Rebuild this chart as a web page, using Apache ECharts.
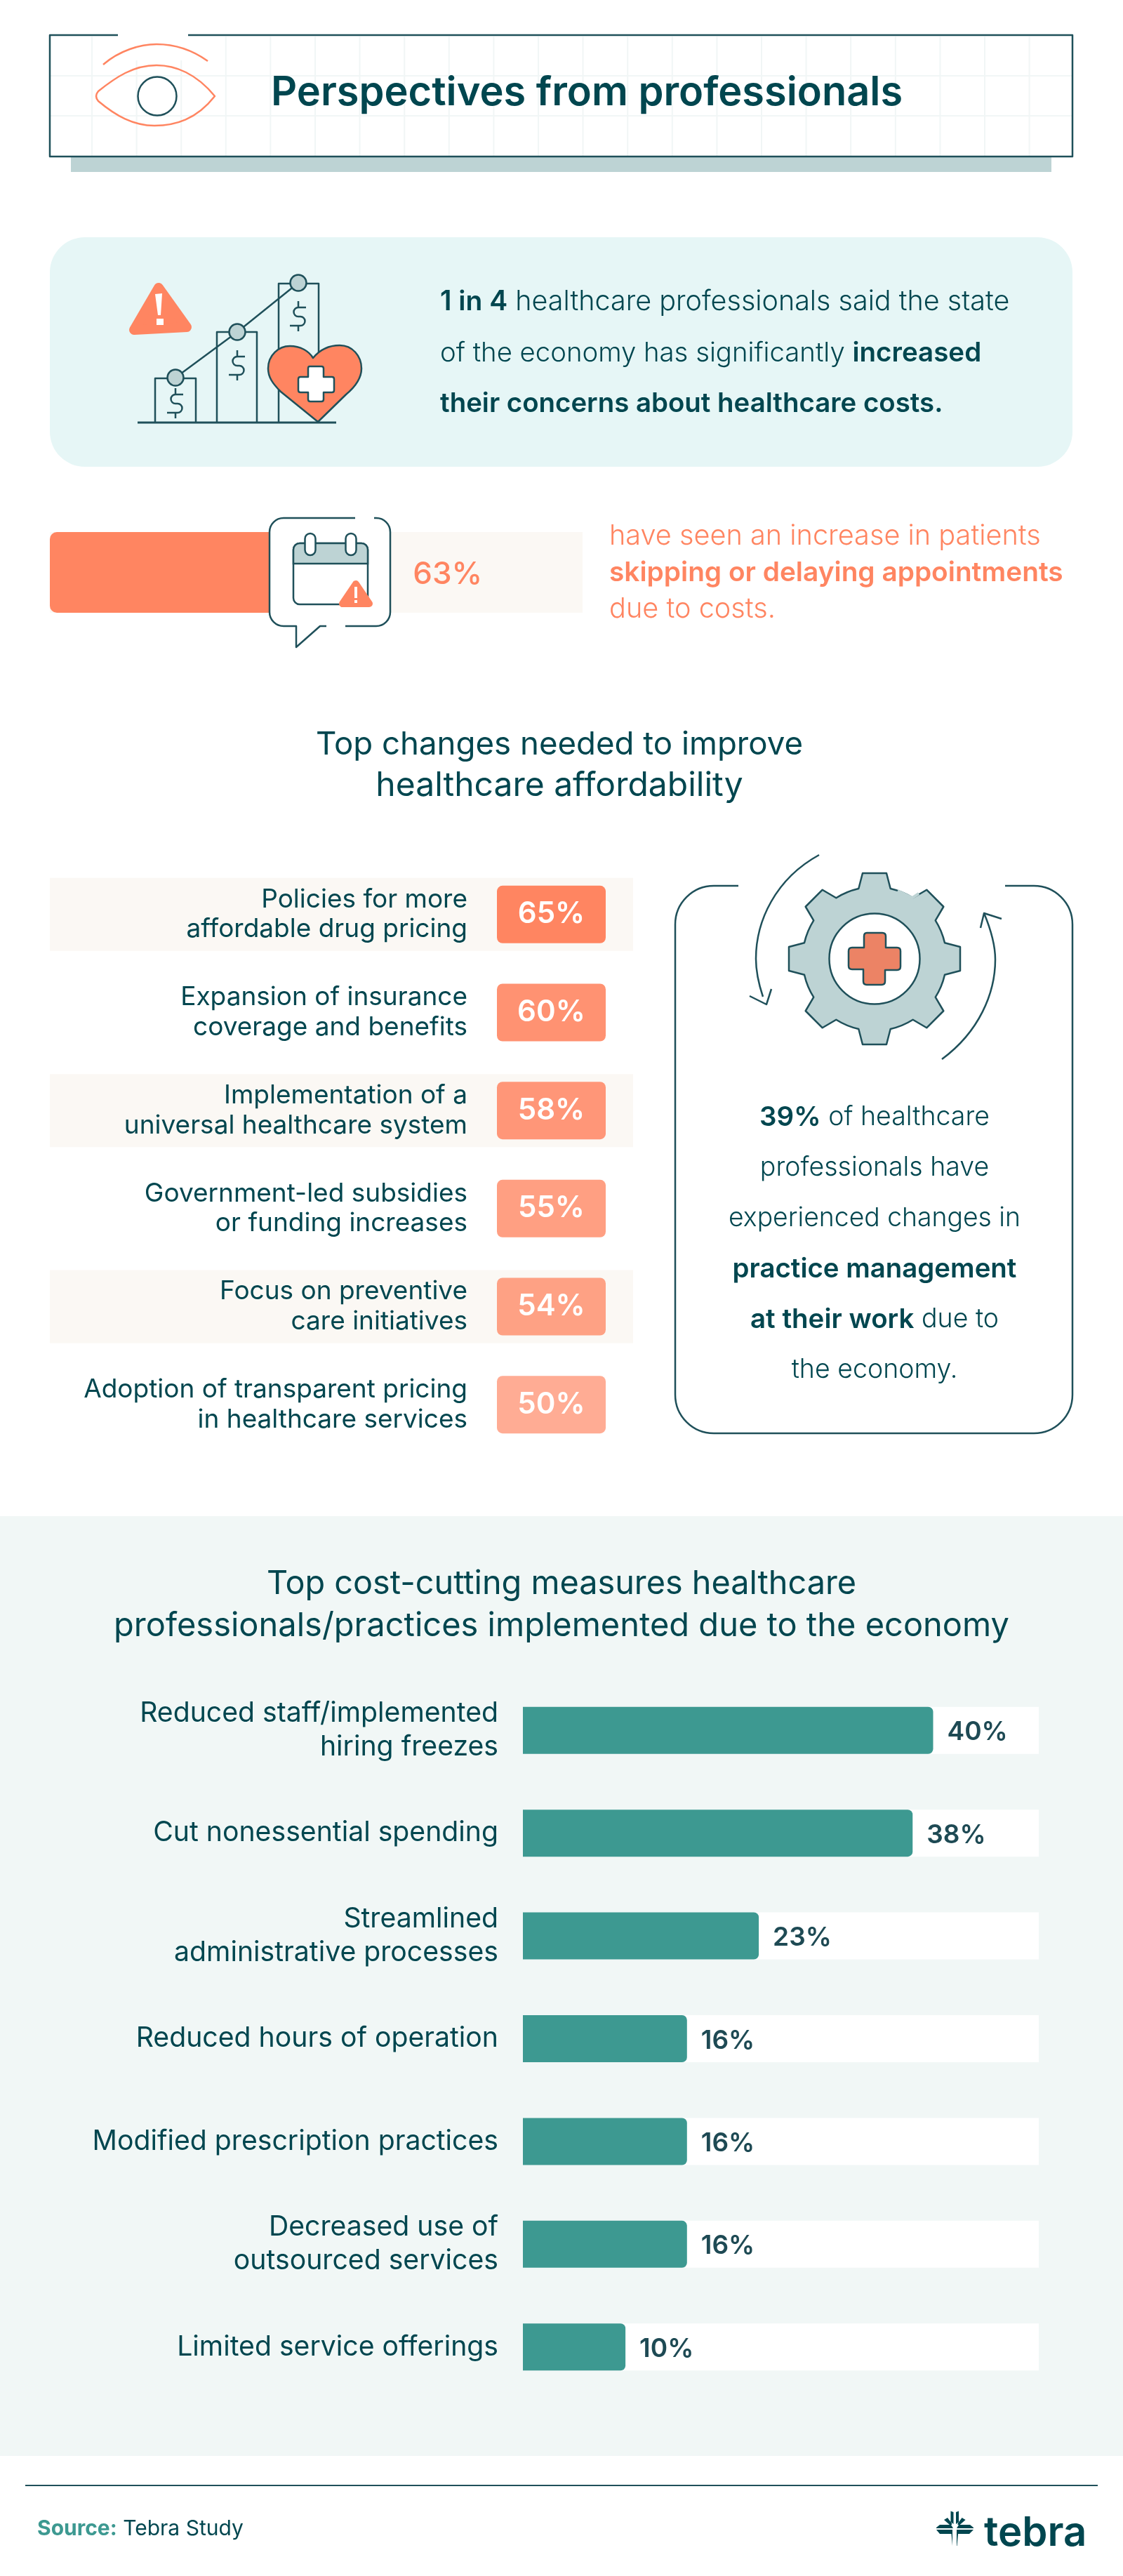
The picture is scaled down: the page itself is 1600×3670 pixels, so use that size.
<!DOCTYPE html>
<html>
<head>
<meta charset="utf-8">
<title>Perspectives from professionals</title>
<script src="https://cdn.jsdelivr.net/npm/echarts@6/dist/echarts.min.js"></script>
<style>
  html, body { margin: 0; padding: 0; background: #fff; }
  #chart { width: 1600px; height: 3670px; }
</style>
</head>
<body>
<div id="chart"></div>
<script>
// data
const skipLabels = ['Skipping or delaying appointments'];
const skipValues = [63];

const changeLabels = [
  'Policies for more\naffordable drug pricing',
  'Expansion of insurance\ncoverage and benefits',
  'Implementation of a\nuniversal healthcare system',
  'Government-led subsidies\nor funding increases',
  'Focus on preventive\ncare initiatives',
  'Adoption of transparent pricing\nin healthcare services'
];
const changeValues = [65, 60, 58, 55, 54, 50];

const measureLabels = [
  'Reduced staff/implemented\nhiring freezes',
  'Cut nonessential spending',
  'Streamlined\nadministrative processes',
  'Reduced hours of operation',
  'Modified prescription practices',
  'Decreased use of\noutsourced services',
  'Limited service offerings'
];
const measureValues = [40, 38, 23, 16, 16, 16, 10];

const FONT = 'Inter';
const DARK = '#00464f';
const LINE = '#1f505a';
const CORAL = '#ff8561';
const TEAL = '#3d9991';
const MIST = '#bdd3d4';

const path = (d, style) => ({ type: 'path', shape: { pathData: d }, style: Object.assign({ fill: 'none', stroke: LINE, lineWidth: 2.5, lineJoin: 'round', lineCap: 'butt' }, style) });
const text = (x, y, str, size, weight, fill, align) => ({
  type: 'text',
  style: { x: x, y: y, text: str, fontFamily: FONT, fontSize: size, fontWeight: weight, fill: fill || DARK, align: align || 'left', verticalAlign: 'middle' }
});
// mixed light / bold line
const mixed = (x, y, str, size, boldSize, fill, align) => {
  const t = text(x, y, str, size, 300, fill, align);
  t.style.rich = {
    n: { fontFamily: FONT, fontSize: size, fontWeight: 300, fill: fill || DARK },
    b: { fontFamily: FONT, fontSize: boldSize, fontWeight: 600, fill: fill || DARK }
  };
  return t;
};
const dollar = (cx, cy) => path(
  `M${cx + 11} ${cy - 13} H${cx} A6.5 6.5 0 0 0 ${cx} ${cy} H${cx + 3} A6.5 6.5 0 0 1 ${cx + 3} ${cy + 13} H${cx - 12} M${cx} ${cy - 22} V${cy - 13} M${cx} ${cy + 13} V${cy + 21}`
);
const warning = (points, stroke) => ({ type: 'polygon', shape: { points }, style: { fill: CORAL, stroke: CORAL, lineWidth: stroke, lineJoin: 'round' } });
const gearPath = (cx, cy) => {
  let d = '';
  for (let k = 0; k < 8; k++) {
    const a = k * Math.PI / 4;
    const rot = (dx, dy) => [cx + dx * Math.cos(a) - dy * Math.sin(a), cy + dx * Math.sin(a) + dy * Math.cos(a)];
    const pts = [rot(-22.7, -100), rot(-17, -122), rot(17, -122), rot(22.7, -100)];
    d += (k === 0 ? 'M' : 'A102.5 102.5 0 0 1 ') + pts[0].join(' ') + ' L' + pts[1].join(' ') + ' L' + pts[2].join(' ') + ' L' + pts[3].join(' ') + ' ';
  }
  return d + 'A102.5 102.5 0 0 1 ' + [cx - 22.7, cy - 100].join(' ') + ' Z';
};

function backdrop() {
  const out = [];
  // header card
  out.push({ type: 'rect', shape: { x: 101, y: 223, width: 1397, height: 22 }, style: { fill: MIST } });
  for (let i = 0; i < 22; i++) {
    const x = 131 + i * 63.6;
    out.push({ type: 'line', shape: { x1: x, y1: 52, x2: x, y2: 222 }, style: { stroke: '#f1f6f6', lineWidth: 2 } });
  }
  [108, 165].forEach(y => out.push({ type: 'line', shape: { x1: 72, y1: y, x2: 1527, y2: y }, style: { stroke: '#f1f6f6', lineWidth: 2 } }));
  out.push({ type: 'rect', shape: { x: 160, y: 46, width: 116, height: 40 }, style: { fill: '#fff' } });
  out.push(path('M168 50 H71 V223 H1528 V50 H268'));
  out.push(text(386, 133, 'Perspectives from professionals', 57.7, 600));
  // info panel
  out.push({ type: 'rect', shape: { x: 71, y: 338, width: 1457, height: 327, r: 50 }, style: { fill: '#e6f6f6' } });
  out.push(mixed(627, 430, '{b|1 in 4} {n|healthcare professionals said the state}', 39.5, 39));
  out.push(mixed(627, 503, '{n|of the economy has significantly} {b|increased}', 38.3, 38.5));
  out.push(text(627, 575, 'their concerns about healthcare costs.', 38.4, 600));
  // 63% side text
  out.push(text(868, 764, 'have seen an increase in patients', 39.7, 300, CORAL));
  out.push(text(868, 816, 'skipping or delaying appointments', 38.8, 600, CORAL));
  out.push(text(868, 868, 'due to costs.', 39.7, 300, CORAL));
  // section titles
  out.push(text(797, 1061, 'Top changes needed to improve', 45.6, 400, DARK, 'center'));
  out.push(text(797, 1120, 'healthcare affordability', 48, 400, DARK, 'center'));
  // right callout
  out.push(path('M1052 1262 H1017 A55 55 0 0 0 962 1317 V1987 A55 55 0 0 0 1017 2042 H1473 A55 55 0 0 0 1528 1987 V1317 A55 55 0 0 0 1473 1262 H1432'));
  out.push(mixed(1246, 1592, '{b|39%} {n|of healthcare}', 37.5, 38.5, DARK, 'center'));
  out.push(text(1246, 1664, 'professionals have', 37.5, 300, DARK, 'center'));
  out.push(text(1246, 1736, 'experienced changes in', 37.3, 300, DARK, 'center'));
  out.push(text(1246, 1808, 'practice management', 38.4, 600, DARK, 'center'));
  out.push(mixed(1246, 1880, '{b|at their work} {n|due to}', 37.5, 38.5, DARK, 'center'));
  out.push(text(1246, 1952, 'the economy.', 37.5, 300, DARK, 'center'));
  // bottom section
  out.push({ type: 'rect', shape: { x: 0, y: 2160, width: 1600, height: 1339 }, style: { fill: '#f1f7f6' } });
  out.push(text(800, 2257, 'Top cost-cutting measures healthcare', 46.8, 400, DARK, 'center'));
  out.push(text(800, 2317, 'professionals/practices implemented due to the economy', 47, 400, DARK, 'center'));
  // footer
  out.push({ type: 'line', shape: { x1: 36, y1: 3541, x2: 1564, y2: 3541 }, style: { stroke: LINE, lineWidth: 2 } });
  const src = text(53, 3603, '{s|Source:} {t|Tebra Study}', 30, 400);
  src.style.rich = {
    s: { fontFamily: FONT, fontSize: 30, fontWeight: 700, fill: TEAL },
    t: { fontFamily: FONT, fontSize: 30, fontWeight: 400, fill: DARK }
  };
  out.push(src);
  return out;
}

function icons() {
  const out = [];
  // eye
  out.push(path('M306 137 C280 105 250 93 223 93 C190 93 165 110 140 130 Q134 137 140 144 C165 165 190 179 220 179 C250 179 280 170 306 137 Z', { stroke: CORAL }));
  out.push(path('M147 92 C170 72 200 63 223 63 C250 63 275 72 296 87', { stroke: CORAL }));
  out.push({ type: 'circle', shape: { cx: 224, cy: 137, r: 27.5 }, style: { fill: 'none', stroke: LINE, lineWidth: 2.5 } });
  // rising bars icon
  out.push(path('M221 602 V539 H279 V602 M309 602 V473 H366 V602 M397 602 V404 H454 V602'));
  out.push(path('M250 538 L338 473 L425 403'));
  [[250, 538], [338, 473], [425, 403]].forEach(p => out.push({ type: 'circle', shape: { cx: p[0], cy: p[1], r: 11.5 }, style: { fill: MIST, stroke: LINE, lineWidth: 2.5 } }));
  out.push(dollar(250, 575), dollar(338, 521), dollar(425, 451));
  out.push(warning([[226, 410], [191, 470], [266, 466]], 14));
  out.push(path('M221 419 L231 418 L229 449 L225 449 Z M223 454 L233 454 L233 463 L223 463 Z', { fill: '#fff', stroke: 'none' }));
  out.push(path('M453 601 L400 558 C388 546 382 537 382 525 C382 506 397 493 413 493 C428 493 440 500 446 510 C455 499 468 492 484 492 C502 492 515 507 515 525 C515 539 505 552 493 562 Z', { fill: CORAL }));
  out.push(path('M441 522 H458 Q461 522 461 525 V537 H473 Q476 537 476 540 V556 Q476 559 473 559 H461 V569 Q461 572 458 572 H442 Q439 572 439 569 V559 H428 Q425 559 425 556 V540 Q425 537 428 537 H439 V525 Q439 522 441 522 Z', { fill: '#fff' }));
  out.push({ type: 'line', shape: { x1: 196, y1: 602, x2: 479, y2: 602 }, style: { stroke: LINE, lineWidth: 3 } });
  // calendar speech bubble: white card first, then the broken outline on top
  out.push({ type: 'rect', shape: { x: 384, y: 738, width: 172, height: 154, r: 20 }, style: { fill: '#fff' } });
  out.push(path('M506 738 H404 A20 20 0 0 0 384 758 V872 A20 20 0 0 0 404 892 H422 V922 L456 892 H465 M492 892 H536 A20 20 0 0 0 556 872 V758 A20 20 0 0 0 536 738 H533'));
  out.push({ type: 'rect', shape: { x: 418, y: 774, width: 106, height: 87, r: 9 }, style: { fill: '#fff', stroke: LINE, lineWidth: 2.5 } });
  out.push({ type: 'rect', shape: { x: 418, y: 774, width: 106, height: 29, r: [9, 9, 0, 0] }, style: { fill: MIST, stroke: LINE, lineWidth: 2.5 } });
  [442, 500].forEach(x => out.push({ type: 'rect', shape: { x: x - 7.5, y: 760, width: 15, height: 31, r: 7.5 }, style: { fill: '#fff', stroke: LINE, lineWidth: 2.5 } }));
  out.push(warning([[507, 832], [488, 860], [526, 860]], 10));
  out.push({ type: 'rect', shape: { x: 505, y: 836, width: 4, height: 16 }, style: { fill: '#fff' } });
  out.push({ type: 'rect', shape: { x: 505, y: 855, width: 4, height: 4 }, style: { fill: '#fff' } });
  // gear
  out.push(path(gearPath(1246, 1366), { fill: MIST }));
  out.push(path('M1279 1269 L1300 1279 L1309 1273', { stroke: MIST, lineWidth: 4 }));
  out.push({ type: 'circle', shape: { cx: 1246, cy: 1366, r: 64.5 }, style: { fill: '#fff', stroke: LINE, lineWidth: 2.5 } });
  out.push(path('M1235 1329 H1257 Q1262 1329 1262 1334 V1350 H1278 Q1283 1350 1283 1355 V1377 Q1283 1382 1278 1382 H1261 V1398 Q1261 1403 1256 1403 H1235 Q1230 1403 1230 1398 V1381 H1214 Q1209 1381 1209 1376 V1355 Q1209 1350 1214 1350 H1231 V1334 Q1231 1329 1235 1329 Z', { fill: '#ec8365' }));
  out.push(path('M1167 1218 C1105 1252 1077 1312 1077 1366 C1077 1385 1081 1402 1087 1420 M1068 1419 L1092 1431 L1099 1409'));
  out.push(path('M1342 1509 C1395 1470 1418 1415 1418 1367 C1418 1345 1412 1325 1402 1301 M1397 1322 L1402 1301 L1427 1309'));
  // logo
  out.push(path('M1354.5 3577.5 L1358.5 3579 V3596 L1354.5 3593 Z M1366 3577.5 L1362 3579 V3596 L1366 3593 Z M1345 3590 L1350 3587 L1356 3595 V3597 H1353 Z M1375.6 3590 L1370.6 3587 L1364.6 3595 V3597 H1367.6 Z M1334 3601 L1339 3597 H1355 L1358 3602 H1334 Z M1387 3601 L1382 3597 H1366 L1363 3602 H1387 Z M1334 3604 H1357 V3627 H1363 V3604 H1387 L1381 3610 H1365 L1363.5 3627 H1357 L1355.5 3610 H1339 Z', { fill: DARK, stroke: 'none' }));
  out.push(text(1402, 3610, 'tebra', 58, 600));
  return out;
}

const chart = echarts.init(document.getElementById('chart'), null, { renderer: 'canvas' });

const hiddenValue = (gridIndex, max) => ({ type: 'value', gridIndex, min: 0, max, show: false });

chart.setOption({
  animation: false,
  backgroundColor: '#fff',
  grid: [
    { left: 71, width: 759, top: 758, height: 115 },
    { left: 71, width: 831, top: 1233, height: 838 },
    { left: 745, width: 735, top: 2392, height: 1025 }
  ],
  xAxis: [hiddenValue(0, 100), hiddenValue(1, 100), hiddenValue(2, 50.3)],
  yAxis: [
    { type: 'category', gridIndex: 0, data: skipLabels, show: false },
    {
      type: 'category', gridIndex: 1, data: changeLabels, inverse: true, z: 3,
      axisLine: { show: false }, axisTick: { show: false },
      axisLabel: { inside: true, margin: 595, align: 'right', interval: 0, color: DARK, fontFamily: FONT, fontSize: 37, fontWeight: 400, lineHeight: 42.5 }
    },
    {
      type: 'category', gridIndex: 2, data: measureLabels, inverse: true,
      axisLine: { show: false }, axisTick: { show: false },
      axisLabel: { margin: 35, interval: 0, color: DARK, fontFamily: FONT, fontSize: 39.2, fontWeight: 400, lineHeight: 47.5, padding: [0, 0, 6, 0] }
    }
  ],
  series: [
    { type: 'custom', coordinateSystem: 'none', data: [0], z: -1, silent: true, renderItem: () => ({ type: 'group', children: backdrop() }) },
    {
      type: 'bar', xAxisIndex: 0, yAxisIndex: 0, data: skipValues, barWidth: 115, silent: true,
      showBackground: true, backgroundStyle: { color: '#fbf8f4' },
      itemStyle: { color: CORAL, borderRadius: [10, 0, 0, 10] },
      label: { show: true, position: 'right', distance: 39, offset: [0, 3], formatter: '{c}%', color: CORAL, fontFamily: FONT, fontSize: 44, fontWeight: 500 }
    },
    {
      type: 'custom', xAxisIndex: 1, yAxisIndex: 1, data: changeValues.map((v, i) => [v, i]), encode: { x: 0, y: 1 }, silent: true,
      renderItem: (params, api) => {
        const v = api.value(0);
        const i = api.value(1);
        const y = api.coord([0, i])[1];
        const left = params.coordSys.x;
        const kids = [];
        if (i % 2 === 0) kids.push({ type: 'rect', shape: { x: left, y: y - 52, width: params.coordSys.width, height: 104 }, style: { fill: '#fbf8f4' } });
        const alpha = 0.68 + (v - 50) / 15 * 0.32;
        kids.push({ type: 'rect', shape: { x: left + 637, y: y - 41, width: 155, height: 82, r: 8 }, style: { fill: `rgba(255,133,97,${alpha})` } });
        kids.push(text(left + 714.5, y, v + '%', 42, 600, '#fff', 'center'));
        return { type: 'group', children: kids };
      }
    },
    {
      type: 'bar', xAxisIndex: 2, yAxisIndex: 2, data: measureValues, barWidth: 67, silent: true,
      showBackground: true, backgroundStyle: { color: '#fff' },
      itemStyle: { color: TEAL, borderRadius: [0, 7, 7, 0] },
      label: { show: true, position: 'right', distance: 20, offset: [0, 3], formatter: '{c}%', color: '#1e4a54', fontFamily: FONT, fontSize: 37, fontWeight: 600 }
    },
    { type: 'custom', coordinateSystem: 'none', data: [0], z: 5, silent: true, renderItem: () => ({ type: 'group', children: icons() }) }
  ]
});
</script>
</body>
</html>
